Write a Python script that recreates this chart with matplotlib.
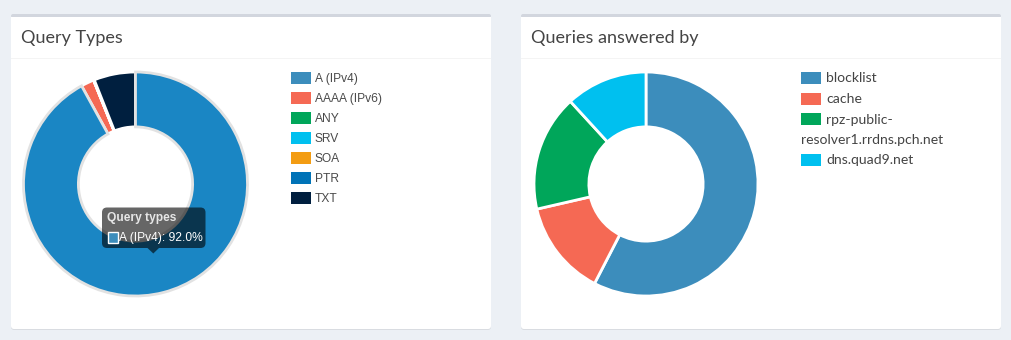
import matplotlib.pyplot as plt
from matplotlib.patches import FancyBboxPatch, Rectangle, Polygon

# data
query_types = ["A (IPv4)", "AAAA (IPv6)", "ANY", "SRV", "SOA", "PTR", "TXT"]
query_share = [92.0, 1.9, 0.0, 0.0, 0.0, 0.1, 6.0]
query_colors = ["#3c8dbc", "#f56954", "#00a65a", "#00c0ef", "#f39c12", "#0073b7", "#001f3f"]

answer_labels = ["blocklist", "cache", "rpz-public-\nresolver1.rrdns.pch.net", "dns.quad9.net"]
answer_share = [57.6, 13.8, 16.8, 11.8]
answer_colors = ["#3c8dbc", "#f56954", "#00a65a", "#00c0ef"]

hover_index = 0
hover_color = "#1a86c4"

W, H = 1011, 340
fig = plt.figure(figsize=(W / 100, H / 100), dpi=100)
fig.patch.set_facecolor("#ecf0f5")

# background axes in pixel coords (y down)
bg = fig.add_axes([0, 0, 1, 1])
bg.set_xlim(0, W)
bg.set_ylim(H, 0)
bg.axis("off")

PT = 72 / 100  # px -> pt


def card(x0, x1, title):
    # shadow, body and top border
    bg.add_patch(FancyBboxPatch((x0, 15), x1 - x0, 315, boxstyle="round,pad=0,rounding_size=3",
                                fc="#d9dce1", ec="none"))
    bg.add_patch(FancyBboxPatch((x0, 14), x1 - x0, 315, boxstyle="round,pad=0,rounding_size=3",
                                fc="white", ec="none"))
    bg.add_patch(FancyBboxPatch((x0, 14), x1 - x0, 4, boxstyle="round,pad=0,rounding_size=2",
                                fc="#d2d6de", ec="none"))
    bg.add_patch(Rectangle((x0, 17), x1 - x0, 2, fc="white", ec="none"))
    bg.add_patch(Rectangle((x0, 58), x1 - x0, 1, fc="#f4f4f4", ec="none"))
    bg.text(x0 + 10, 38, title, fontsize=18 * PT, family="Lato", color="#444444", va="center")


card(11, 491, "Query Types")
card(521, 1001, "Queries answered by")


def donut(cx, cy, r, values, colors, hover=None):
    ax = fig.add_axes([(cx - r - 2) / W, (H - cy - r - 2) / H, (2 * r + 4) / W, (2 * r + 4) / H])
    wedges, _ = ax.pie(values, colors=colors, startangle=90, counterclock=False, radius=1,
                       wedgeprops=dict(width=0.49, edgecolor="white", linewidth=2))
    if hover is not None:
        wedges[hover].set_facecolor(hover_color)
        wedges[hover].set_edgecolor("#e2e2e2")
        wedges[hover].set_zorder(3)
    lim = (r + 2) / r
    ax.set_xlim(-lim, lim)
    ax.set_ylim(-lim, lim)
    ax.set_aspect("equal")
    ax.axis("off")
    return ax


donut(135.5, 184, 112, query_share, query_colors, hover=hover_index)
donut(646, 184, 112, answer_share, answer_colors)

# overlay for legends and tooltip
ov = fig.add_axes([0, 0, 1, 1])
ov.set_xlim(0, W)
ov.set_ylim(H, 0)
ov.axis("off")
ov.patch.set_alpha(0)

for i, (lab, col) in enumerate(zip(query_types, query_colors)):
    y = 78 + 20 * i
    ov.add_patch(Rectangle((291, y - 6), 20, 12, fc=col, ec="none"))
    ov.text(315, y + 1, lab, fontsize=12 * PT, family="Liberation Sans", color="#4a4a4a", va="center")

y = 78
for lab, col in zip(answer_labels, answer_colors):
    ov.add_patch(Rectangle((801, y - 6), 20, 12, fc=col, ec="none"))
    parts = lab.split("\n")
    ov.text(826, y + 0.5, parts[0], fontsize=14 * PT, family="Lato", color="#444444", va="center")
    for extra in parts[1:]:
        y += 20.5
        ov.text(801, y + 0.5, extra, fontsize=14 * PT, family="Lato", color="#444444", va="center")
    y += 20.5

# tooltip for the hovered slice
ov.add_patch(FancyBboxPatch((102, 207.5), 103.5, 40.5, boxstyle="round,pad=0,rounding_size=5",
                            fc="black", ec="none", alpha=0.6))
ov.add_patch(Polygon([(147.5, 248), (159, 248), (153.3, 253.5)], closed=True,
                     fc="black", ec="none", alpha=0.6))
ov.text(107, 217.5, "Query types", fontsize=12 * PT, family="Liberation Sans",
        weight="bold", color="#e6e6e6", va="center")
ov.add_patch(Rectangle((107.5, 232), 10, 10.5, fc=query_colors[hover_index], ec="white", lw=1))
ov.text(119, 238, f"{query_types[hover_index]}: {query_share[hover_index]:.1f}%",
        fontsize=12 * PT, family="Liberation Sans", color="white", va="center")

fig.savefig("out.png", dpi=100, facecolor=fig.get_facecolor())
